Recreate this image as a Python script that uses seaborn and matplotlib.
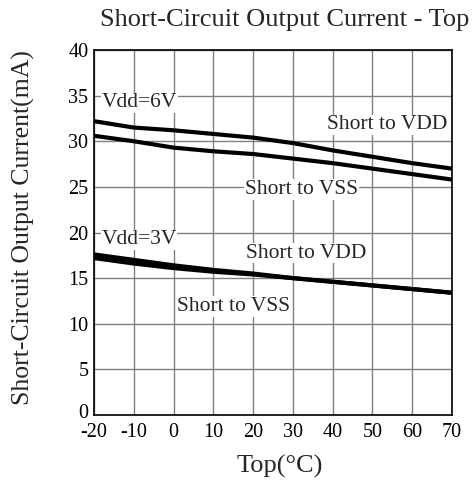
import matplotlib
matplotlib.use("Agg")
import matplotlib.pyplot as plt
import matplotlib.transforms as mtrans
import seaborn as sns
import pandas as pd

temps = [-20, -10, 0, 10, 20, 30, 40, 50, 60, 70]
vdd6_short_vdd = [32.2, 31.5, 31.2, 30.8, 30.4, 29.8, 29.0, 28.3, 27.6, 27.0]
vdd6_short_vss = [30.6, 30.0, 29.3, 28.9, 28.6, 28.1, 27.6, 27.0, 26.4, 25.8]
vdd3_short_vdd = [17.6, 17.0, 16.4, 15.9, 15.5, 15.0, 14.6, 14.2, 13.8, 13.4]
vdd3_short_vss = [17.2, 16.6, 16.1, 15.7, 15.4, 15.0, 14.6, 14.2, 13.8, 13.4]
xticks = [-20, -10, 0, 10, 20, 30, 40, 50, 60, 70]
xtick_labels = ["-20", "-10", "0", "10", "20", "30", "40", "50", "60", "70"]
yticks = [0, 5, 10, 15, 20, 25, 30, 35, 40]

sns.set_theme(style="white")
plt.rcParams['font.family'] = ['Liberation Serif', 'DejaVu Serif']

fig = plt.figure(figsize=(4.75, 4.83), dpi=100)
ax = fig.add_axes([94/475, 1 - 415/483, (452-94)/475, (415-50)/483])

series = {"6V VDD": vdd6_short_vdd, "6V VSS": vdd6_short_vss,
          "3V VDD": vdd3_short_vdd, "3V VSS": vdd3_short_vss}
rows = []
for name, vals in series.items():
    for t, v in zip(temps, vals):
        rows.append({"T": t, "I": v, "s": name})
df = pd.DataFrame(rows)
sns.lineplot(data=df, x="T", y="I", units="s", estimator=None, color="black",
             linewidth=3, ax=ax, zorder=3)

ax.set_xlim(-20, 70)
ax.set_ylim(0, 40)
ax.set_xticks(xticks)
ax.set_xticklabels(xtick_labels)
ax.set_yticks(yticks)
ax.grid(True, color="#808080", linewidth=1.0)
ax.tick_params(axis="both", length=0, labelsize=14.5, colors="black")
ax.tick_params(axis="x", pad=6)
ax.tick_params(axis="y", pad=4)
for sp in ax.spines.values():
    sp.set_color("black")
    sp.set_linewidth(1.2)
ax.set_xlabel("")
ax.set_ylabel("")

# lift the "0" y-tick label slightly, as in the reference
lbl0 = ax.get_yticklabels()[0]
lbl0.set_transform(lbl0.get_transform() + mtrans.ScaledTranslation(0, 4/100, fig.dpi_scale_trans))

fig.text(279.5/475, 1 - 466/483, "Top(°C)", fontsize=19, ha="center", va="center")
fig.text(23/475, 1 - 228/483, "Short-Circuit Output Current(mA)", fontsize=18.5,
         ha="center", va="center", rotation=90)
fig.text(285/475, 1 - 20/483, "Short-Circuit Output Current - Top", fontsize=19,
         ha="center", va="center")

bb = dict(facecolor="white", edgecolor="none", pad=0.5)
def lab(x, y, s):
    ax.text(x, y, s, fontsize=15.5, ha="center", va="center", bbox=bb, zorder=4)

lab(-8.6, 34.2, "Vdd=6V")
lab(53.7, 31.8, "Short to VDD")
lab(32.2, 24.7, "Short to VSS")
lab(-8.7, 19.2, "Vdd=3V")
lab(33.3, 17.75, "Short to VDD")
lab(15.1, 11.9, "Short to VSS")

fig.savefig("out.png", dpi=100)
